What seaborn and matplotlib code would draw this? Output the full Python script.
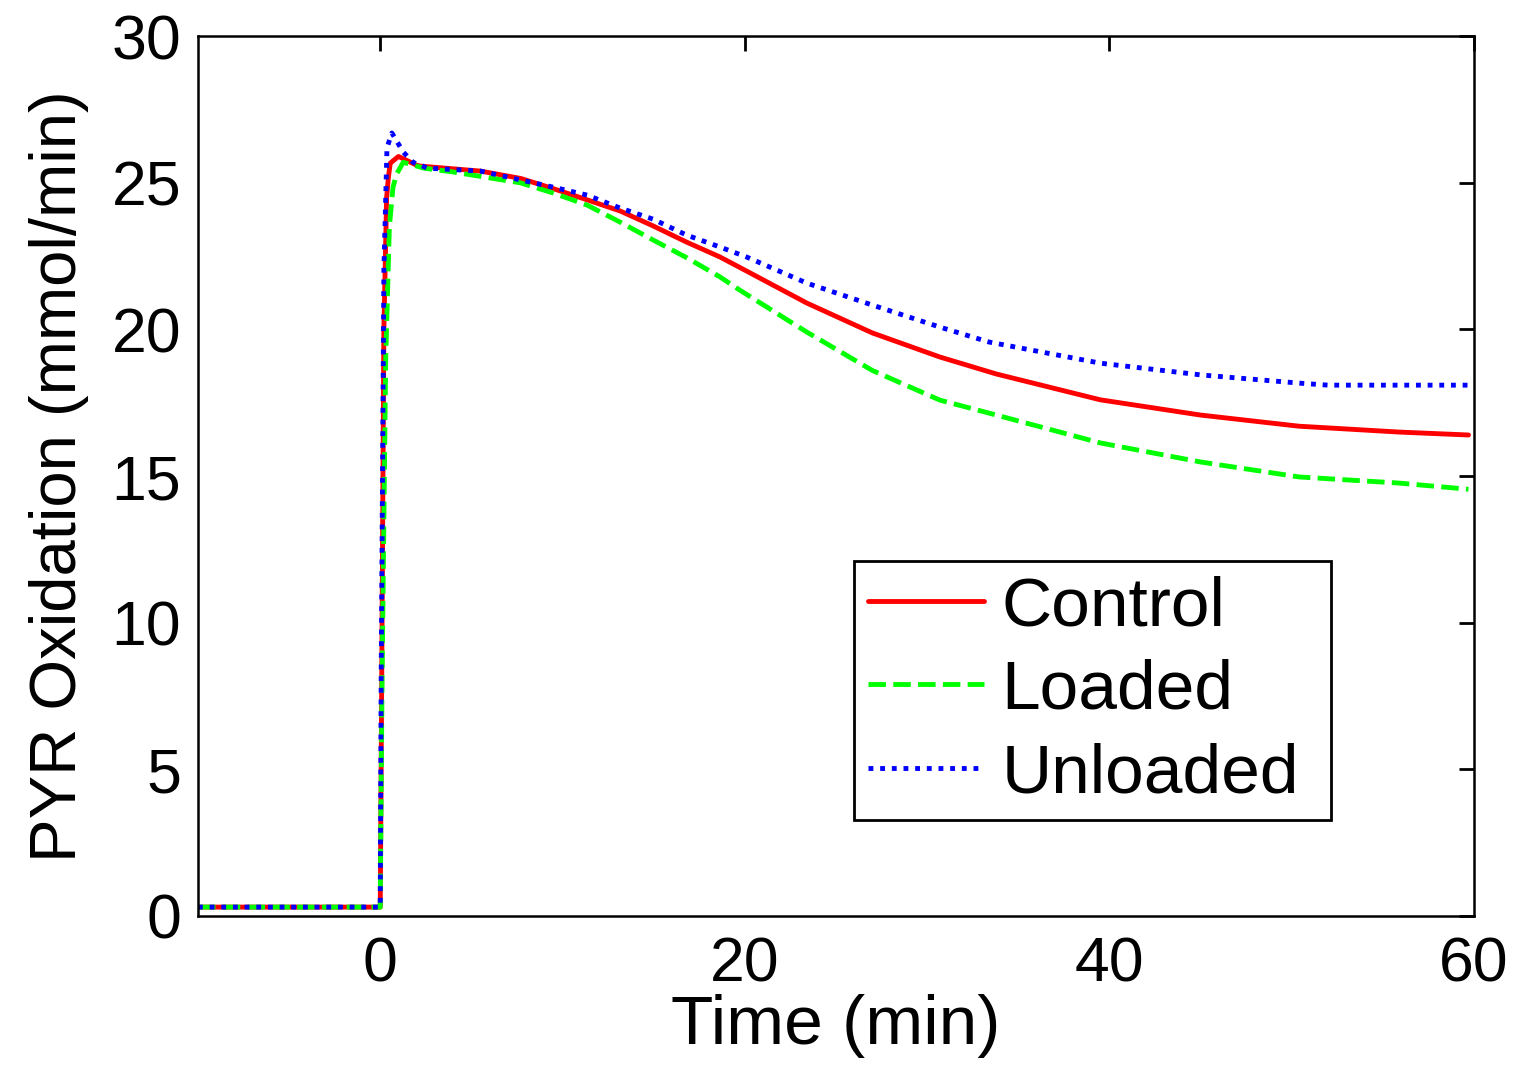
import numpy as np
import pandas as pd
import matplotlib
matplotlib.use("Agg")
import matplotlib.pyplot as plt
import seaborn as sns

# ---- data ----
control_t = [-10, -0.01, 0.0, 0.05, 0.2, 0.35, 0.45, 0.55, 1.0, 2.0, 2.2, 5.5, 7.7, 9.5, 11.35, 13.16, 14.97, 16.8, 18.64, 20.1, 23.4, 27.0, 30.7, 33.8, 39.5, 45, 50.4, 55.9, 59.7]
control_y = [0.3, 0.3, 0.3, 5.0, 20.0, 24.5, 25.2, 25.67, 25.9, 25.6, 25.57, 25.4, 25.15, 24.8, 24.42, 24.04, 23.53, 22.98, 22.47, 21.99, 20.9, 19.88, 19.06, 18.48, 17.6, 17.08, 16.7, 16.5, 16.4]

loaded_t = [-10, -0.01, 0.0, 0.1, 0.3, 0.5, 0.7, 0.9, 1.26, 2.4, 4.0, 7.68, 9.5, 11.35, 13.16, 14.97, 16.8, 18.64, 19.7, 23.4, 27.0, 30.7, 33.8, 39.5, 45, 50.4, 55.9, 59.7]
loaded_y = [0.3, 0.3, 0.3, 8.0, 19.0, 23.5, 24.85, 25.3, 25.7, 25.5, 25.37, 25.0, 24.65, 24.24, 23.66, 23.05, 22.45, 21.79, 21.35, 19.91, 18.6, 17.59, 17.08, 16.13, 15.48, 14.97, 14.76, 14.55]

unloaded_t = [-10, -0.01, 0.0, 0.05, 0.2, 0.37, 0.64, 1.26, 1.8, 2.6, 5.5, 9.5, 11.35, 13.16, 14.97, 16.8, 18.64, 20.1, 23.4, 27.0, 30.7, 33.4, 39.5, 45, 50.4, 52, 59.7]
unloaded_y = [0.3, 0.3, 0.3, 8.0, 22.0, 26.2, 26.7, 26.05, 25.7, 25.5, 25.4, 24.85, 24.58, 24.14, 23.76, 23.22, 22.81, 22.47, 21.58, 20.83, 20.08, 19.57, 18.85, 18.45, 18.17, 18.1, 18.1]

series_names = ["Control", "Loaded", "Unloaded"]
x_ticks = [0, 20, 40, 60]
y_ticks = [0, 5, 10, 15, 20, 25, 30]

sns.set_style("white")
plt.rcParams['font.family'] = ['Liberation Sans', 'DejaVu Sans']
plt.rcParams['text.color'] = 'black'
plt.rcParams['axes.labelcolor'] = 'black'
plt.rcParams['xtick.color'] = 'black'
plt.rcParams['ytick.color'] = 'black'

fig = plt.figure(figsize=(15.18, 10.65), dpi=100)
ax = fig.add_axes([0.1304, 0.140, 0.8406, 0.826])

lw = 3.5
specs = [
    (control_t, control_y, "#FF0000", "-"),
    (loaded_t, loaded_y, "#00FF00", (0, (3.6, 1.5))),
    (unloaded_t, unloaded_y, "#0000FF", (0, (1.0, 1.4))),
]
for name, (t, y, c, ls) in zip(series_names, specs):
    df = pd.DataFrame({"t": t, "y": y})
    sns.lineplot(data=df, x="t", y="y", ax=ax, color=c, linestyle=ls,
                 linewidth=lw, label=name, estimator=None, sort=False)

ax.set_xlim(-10, 60)
ax.set_ylim(0, 30)
ax.set_xticks(x_ticks)
ax.set_yticks(y_ticks)
ax.set_xlabel("Time (min)", fontsize=50, labelpad=0)
ax.set_ylabel("PYR Oxidation (mmol/min)", fontsize=47, labelpad=16)
ax.tick_params(axis='both', which='both', direction='in', length=11, width=2,
               labelsize=45, top=True, right=True)
ax.tick_params(axis='x', pad=14)
ax.tick_params(axis='y', pad=12)
for s in ax.spines.values():
    s.set_visible(True)
    s.set_color("black")
    s.set_linewidth(1.8)

leg_w = 477 / 1276
leg = ax.legend(loc='upper left', bbox_to_anchor=(0.514, 0.0, leg_w, 0.403),
                mode='expand', fontsize=50,
                frameon=True, fancybox=False, edgecolor='black', framealpha=1,
                borderaxespad=0, handlelength=1.68, handletextpad=0.25,
                borderpad=0.2, labelspacing=0.28)
leg.get_frame().set_linewidth(2.0)

fig.savefig("out.png", dpi=100, facecolor="white")
